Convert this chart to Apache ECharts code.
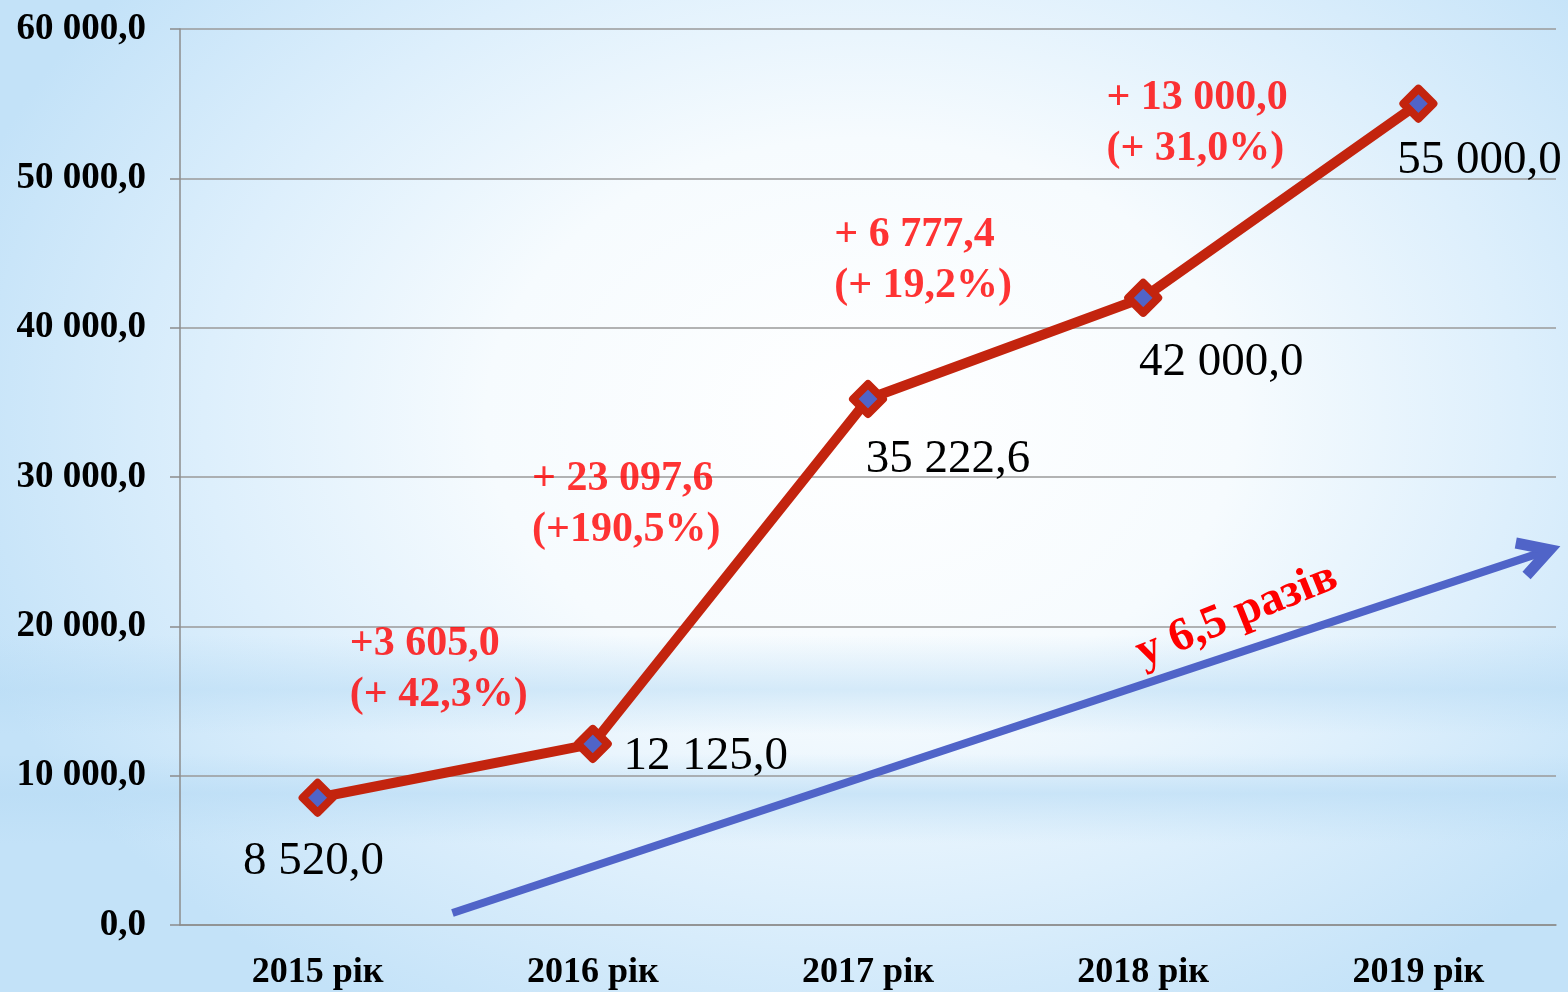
<!DOCTYPE html>
<html>
<head>
<meta charset="utf-8">
<script src="https://cdn.jsdelivr.net/npm/echarts@6/dist/echarts.min.js"></script>
<style>
  html, body { margin: 0; padding: 0; }
  body {
    width: 1568px; height: 992px; overflow: hidden;
    background:
      linear-gradient(to bottom, rgba(185,220,245,0) 64%, rgba(185,220,245,0.55) 69.5%, rgba(185,220,245,0) 74%,
                      rgba(185,220,245,0) 76%, rgba(185,220,245,0.65) 80%, rgba(185,220,245,0) 85%),
      radial-gradient(ellipse 60% 70% at 55% 42%, #ffffff 0%, #f6fbfe 40%, #ddeffc 70%, #c3e2f8 100%);
  }
  #main { width: 1568px; height: 992px; }
</style>
</head>
<body>
<div id="main"></div>
<script>
// data
var years = ['2015 рік', '2016 рік', '2017 рік', '2018 рік', '2019 рік'];
var values = [8520.0, 12125.0, 35222.6, 42000.0, 55000.0];
var changeAbs = ['', '+3 605,0', '+ 23 097,6', '+ 6 777,4', '+ 13 000,0'];
var changePct = ['', '(+ 42,3%)', '(+190,5%)', '(+ 19,2%)', '(+ 31,0%)'];
var yTicks = [0, 10000, 20000, 30000, 40000, 50000, 60000];
// trend arrow, in (category index, value) units
var arrowX = [0.49, 4.44];
var arrowY = [800, 24900];
var arrowText = 'у 6,5 разів';

function fmt(v) {
  var s = v.toFixed(1).split('.');
  return s[0].replace(/\B(?=(\d{3})+(?!\d))/g, ' ') + ',' + s[1];
}

var serif = '"Liberation Serif", "Times New Roman", serif';
var lineRed = '#c3240e';
var blue = '#5064c8';

var valueOffsets = [[-4, 64], [113, 13], [80, 61], [78, 65], [61, 57]];
var changeOffsets = [null, [-243, -74], [-336, 106], [-309, -37], [-312, 20]];

var chart = echarts.init(document.getElementById('main'));

var option = {
  backgroundColor: 'transparent',
  animation: false,
  grid: { left: 180, right: 12, top: 29, bottom: 67 },
  xAxis: [{
    type: 'category',
    data: years,
    axisLine: { lineStyle: { color: '#8c8c8c', width: 1.5 } },
    axisTick: { length: 12, lineStyle: { color: '#8c8c8c', width: 1.5 } },
    axisLabel: {
      margin: 30, color: '#000', fontFamily: serif, fontWeight: 'bold', fontSize: 36
    }
  }, {
    type: 'value', min: -0.5, max: 4.5, show: false
  }],
  yAxis: {
    type: 'value',
    min: yTicks[0],
    max: yTicks[yTicks.length - 1],
    interval: yTicks[1] - yTicks[0],
    axisLine: { show: true, onZero: false, lineStyle: { color: '#8c8c8c', width: 1.5 } },
    axisTick: { show: true, length: 10, lineStyle: { color: '#8c8c8c', width: 1.5 } },
    splitLine: { lineStyle: { color: '#9a9a9a', width: 1.5 } },
    axisLabel: {
      margin: 34, color: '#000', fontFamily: serif, fontWeight: 'bold', fontSize: 37,
      formatter: function (v) { return fmt(v); }
    }
  },
  series: [{
    type: 'line',
    data: values.map(function (v, i) {
      return {
        value: v,
        label: { offset: valueOffsets[i] }
      };
    }),
    lineStyle: { color: lineRed, width: 10 },
    symbol: 'diamond',
    symbolSize: 30,
    itemStyle: { color: blue, borderColor: lineRed, borderWidth: 8, borderJoin: 'round' },
    label: {
      show: true,
      position: 'inside',
      color: '#000',
      fontFamily: serif,
      fontSize: 47,
      formatter: function (p) { return fmt(p.value); }
    },
    z: 5
  }, {
    type: 'scatter',
    symbolSize: 0,
    data: values.map(function (v, i) {
      if (!changeAbs[i]) return '-';
      return {
        value: v,
        label: { offset: changeOffsets[i] }
      };
    }),
    label: {
      show: true,
      position: 'inside',
      align: 'left',
      verticalAlign: 'middle',
      color: '#ff0000',
      fontFamily: serif,
      fontWeight: 'bold',
      fontSize: 42,
      lineHeight: 51,
      formatter: function (p) {
        return changeAbs[p.dataIndex] + '\n' + changePct[p.dataIndex];
      }
    },
    z: 6
  }, {
    type: 'line',
    xAxisIndex: 1,
    data: [],
    markLine: {
      silent: true,
      symbol: ['none', 'path://M0,18 L10,0 L20,18 L15.6,20.5 L10,10.5 L4.4,20.5 Z'],
      symbolSize: 44,
      lineStyle: { color: blue, width: 8, type: 'solid' },
      itemStyle: { color: blue },
      label: { show: false },
      data: [[
        { coord: [arrowX[0], arrowY[0]] },
        { coord: [arrowX[1], arrowY[1]] }
      ]]
    },
    markPoint: {
      silent: true,
      symbol: 'circle',
      symbolSize: 0,
      label: {
        show: true,
        position: 'inside',
        rotate: 22,
        color: '#ff0000',
        fontFamily: serif,
        fontWeight: 'bold',
        fontSize: 47,
        formatter: arrowText
      },
      data: [{ coord: [3.34, 20750] }]
    },
    z: 3
  }]
};

chart.setOption(option);
</script>
</body>
</html>
